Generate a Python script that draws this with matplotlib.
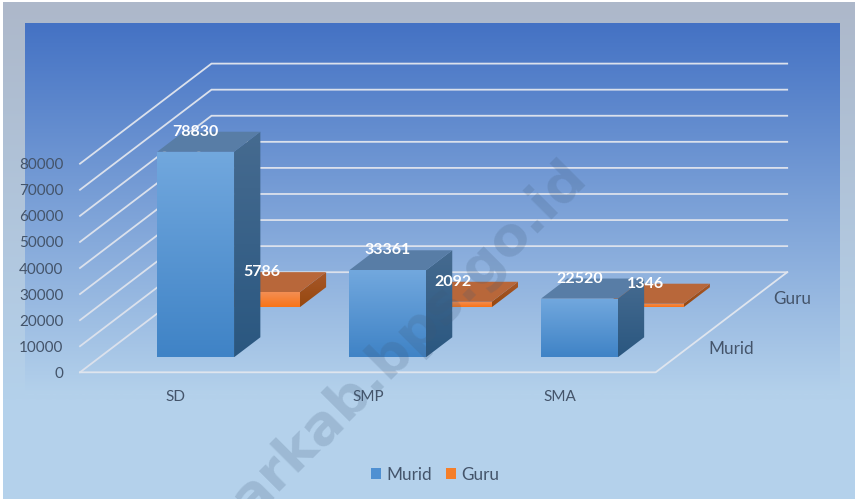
import numpy as np
import matplotlib
matplotlib.use("Agg")
import matplotlib.pyplot as plt
from matplotlib.colors import to_rgb
from matplotlib.patches import Polygon, Patch

plt.rcParams['font.family']=['Lato','DejaVu Sans']

categories=["SD","SMP","SMA"]
series=["Murid","Guru"]
murid=[78830,33361,22520]
guru=[5786,2092,1346]
yticks=[0,10000,20000,30000,40000,50000,60000,70000,80000]

W,H=855,499
# one unit of depth in category / value units (oblique 3d look)
DX=131.5/191.9
DY=100/26.05*10000
BAR_W=0.4
BAR_D=0.2
TXT="#44546a"

def proj(c,d,v):
    return c+d*DX,v+d*DY

def vgrad(top,bot,n=256):
    a,b=np.array(to_rgb(top)),np.array(to_rgb(bot))
    t=np.linspace(0,1,n)[:,None,None]
    return a+(b-a)*t

def grad_poly(ax,pts,top,bot,z):
    pts=np.array(pts)
    poly=Polygon(pts,closed=True,transform=ax.transData,fc='none',ec='none',clip_on=False)
    ax.add_patch(poly)
    im=ax.imshow(vgrad(top,bot),extent=[pts[:,0].min(),pts[:,0].max(),pts[:,1].min(),pts[:,1].max()],
                 aspect='auto',zorder=z,origin='upper',interpolation='bilinear')
    im.set_clip_box(ax.figure.bbox)
    im.set_clip_path(poly)

def bar3d(ax,c,d0,val,cols,z):
    x0,x1=c-BAR_W/2,c+BAR_W/2
    d1=d0+BAR_D
    front=[proj(x0,d0,0),proj(x1,d0,0),proj(x1,d0,val),proj(x0,d0,val)]
    side=[proj(x1,d0,0),proj(x1,d1,0),proj(x1,d1,val),proj(x1,d0,val)]
    top=[proj(x0,d0,val),proj(x1,d0,val),proj(x1,d1,val),proj(x0,d1,val)]
    grad_poly(ax,side,cols['side'][0],cols['side'][1],z)
    ax.add_patch(Polygon(top,closed=True,fc=cols['top'],ec='none',zorder=z+.1,clip_on=False))
    grad_poly(ax,front,cols['front'][0],cols['front'][1],z+.2)

fig=plt.figure(figsize=(W/100,H/100),dpi=100)

# background
bg=fig.add_axes([0,0,1,1],zorder=-1)
bg.set_axis_off()
bg.imshow(vgrad("#adb8ca","#b4d1eb"),extent=[3,W,400,2],aspect='auto',origin='upper')
bg.imshow(vgrad("#b4d1eb","#b4d1eb",2),extent=[3,W,H,400],aspect='auto')
bg.imshow(vgrad("#4472c4","#b4d1eb"),extent=[25,839,395,23],aspect='auto',origin='upper')
bg.set_xlim(0,W)
bg.set_ylim(H,0)

ax=fig.add_axes([80/W,(H-372.3)/H,575.7/W,208.6/H])
ax.patch.set_alpha(0)
for s in ax.spines.values():
    s.set_visible(False)

# walls and floor
gridc="#dbe1ec"
for v in yticks:
    p=[proj(0,0,v),proj(0,1,v),proj(3,1,v)]
    ax.plot(*zip(*p),color=gridc,lw=1.3,zorder=1,clip_on=False,solid_joinstyle='miter')
floor=[proj(0,0,0),proj(3,0,0),proj(3,1,0)]
ax.plot(*zip(*floor),color="#dfe5ee",lw=1.3,zorder=1,clip_on=False)

murid_cols={'front':("#72a8de","#3f83c6"),'side':("#466b90","#2a5780"),'top':"#587da6"}
guru_cols={'front':("#f39058","#f97417"),'side':("#a8582a","#96480f"),'top':"#b8673a"}

for i in range(3):
    bar3d(ax,i+.5,0.65,guru[i],guru_cols,3+i)
for i in range(3):
    bar3d(ax,i+.5,0.15,murid[i],murid_cols,7+i)

# labels sit above the front centre of each bar, at the height of its back edge
for i in range(3):
    for row,vals in ((0.15,murid),(0.65,guru)):
        x,_=proj(i+.5,row,vals[i])
        y=vals[i]+row*DY+BAR_D*DY
        ax.text(x,y,str(vals[i]),color="white",fontweight='bold',fontsize=11.5,
                ha='center',va='center',zorder=20,clip_on=False)

ax.set_xticks([i+.5 for i in range(3)],categories)
ax.set_yticks(yticks,[str(v) for v in yticks])
ax.tick_params(length=0,colors=TXT,labelsize=11)
ax.tick_params(axis='y',pad=12)
ax.tick_params(axis='x',pad=12.5)
ax.set_xlim(0,3)
ax.set_ylim(0,80000)

# depth axis labels
for d,name,off in zip((0.25,0.75),series,((31,-1.5),(27.5,-1))):
    x,y=proj(3,d,0)
    ax.annotate(name,(x,y),xytext=off,textcoords='offset points',color=TXT,fontsize=12.3,
                ha='center',va='center',annotation_clip=False)

ax.legend(handles=[Patch(fc="#4f90d2",label=series[0]),Patch(fc="#f57f2a",label=series[1])],
          loc='center',bbox_to_anchor=(435/W,(H-474.5)/H),bbox_transform=fig.transFigure,ncol=2,frameon=False,
          fontsize=12.3,labelcolor=TXT,handlelength=.6,handleheight=.6,handletextpad=.3,columnspacing=.8)

fig.text(578/W,(H-169)/H,"arkab.bps.go.id",rotation=45,ha='right',va='center',rotation_mode='anchor',
         fontsize=39,fontweight='bold',family='DejaVu Sans',color="#3f5a78",alpha=.2,zorder=30)

fig.savefig("out.png",dpi=100)
